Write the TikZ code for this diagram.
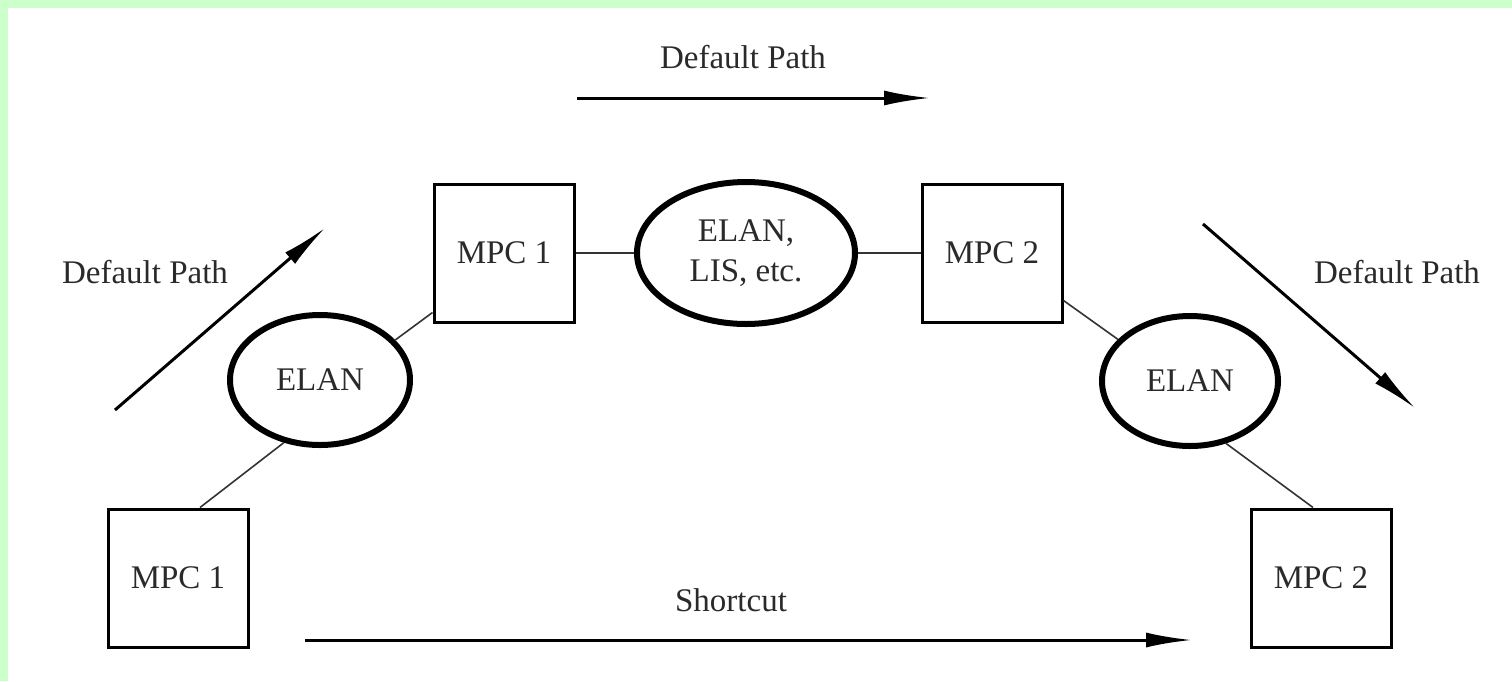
\documentclass[tikz,border=0pt]{standalone}
\usepackage{fontspec}
\setmainfont{Liberation Serif}
\usetikzlibrary{arrows.meta,shapes.geometric}
\definecolor{framegreen}{HTML}{CCFFCC}
\definecolor{inkgray}{HTML}{2A2A2A}
\begin{document}
\begin{tikzpicture}[x=1pt,y=-1pt,
  every node/.style={font=\fontsize{33}{38}\selectfont, text=inkgray},
  mpcbox/.style={draw=black, line width=3pt, rectangle, minimum width=140pt, minimum height=138pt, inner sep=0pt},
  elanell/.style={draw=black, line width=6pt, ellipse, inner sep=0pt},
  link/.style={draw=black!80, line width=1.6pt},
  patharrow/.style={draw=black, line width=3pt, -{Latex[length=46pt,width=15pt]}},
  lbl/.style={inner sep=0pt}
]
\useasboundingbox (0,0) rectangle (1512,681);
\fill[framegreen] (0,0) rectangle (1512,681);
\fill[white] (8,8) rectangle (1512,681);

% nodes
\node[mpcbox] (mpcA) at (178,578) {MPC 1};
\node[mpcbox] (mpcB) at (504,253) {MPC 1};
\node[mpcbox] (mpcC) at (992,253) {MPC 2};
\node[mpcbox] (mpcD) at (1321,578) {MPC 2};
\node[elanell, minimum width=180pt, minimum height=130pt] (elanL) at (320,380) {ELAN};
\node[elanell, minimum width=218pt, minimum height=142pt, align=center, font=\fontsize{33}{40}\selectfont] (elanM) at (746,253) {ELAN,\\LIS, etc.};
\node[elanell, minimum width=176pt, minimum height=130pt] (elanR) at (1190,381) {ELAN};

% connectors
\draw[link] ([xshift=22pt]mpcA.north) -- (elanL.240);
\draw[link] (elanL.28) -- ([yshift=11pt]mpcB.south west);
\draw[link] (mpcB.east) -- (elanM.west);
\draw[link] (elanM.east) -- (mpcC.west);
\draw[link] ([yshift=23pt]mpcC.south east) -- (elanR.150);
\draw[link] (elanR.300) -- ([xshift=-8pt]mpcD.north);

% path arrows and labels
\coordinate (t1) at (577,98);  \coordinate (t2) at (930,98);
\draw[patharrow] (t1) -- (t2);
\node[lbl] (ltop) at (743,57) {Default Path};

\coordinate (l1) at (115,410); \coordinate (l2) at (325,228);
\draw[patharrow] (l1) -- (l2);
\node[lbl] (lleft) at (145,272) {Default Path};

\coordinate (r1) at (1203,224); \coordinate (r2) at (1415,408);
\draw[patharrow] (r1) -- (r2);
\node[lbl] (lright) at (1397,272) {Default Path};

\coordinate (s1) at (305,640); \coordinate (s2) at (1192,640);
\draw[patharrow] (s1) -- (s2);
\node[lbl] (lshort) at (731,600) {Shortcut};
\end{tikzpicture}
\end{document}
